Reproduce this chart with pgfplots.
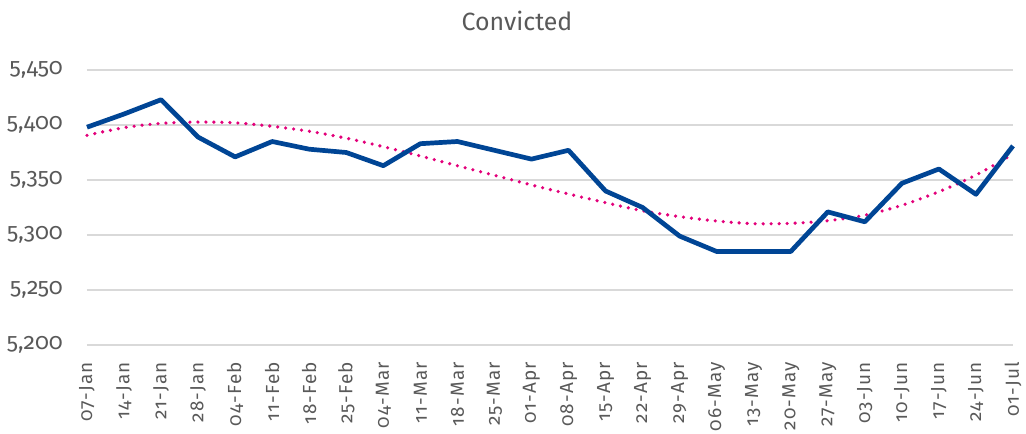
\documentclass[border=0pt]{standalone}
\usepackage{pgfplots}
\pgfplotsset{compat=1.18}
\usepackage{fontspec}
\setmainfont[Numbers=OldStyle]{Fira Sans}
\definecolor{lineblue}{HTML}{004595}
\definecolor{trendpink}{HTML}{E2007A}
\definecolor{gridgray}{HTML}{D9D9D9}
\definecolor{textgray}{HTML}{595959}
\begin{document}
\begin{tikzpicture}
\useasboundingbox (-87bp,-89bp) rectangle (939bp,345bp);
\begin{axis}[
  at={(0,0)}, anchor=south west,
  scale only axis, width=926bp, height=275bp,
  xmin=0, xmax=25, ymin=5200, ymax=5450,
  axis line style={draw=none},
  major tick length=0,
  ymajorgrids, grid style={gridgray, line width=1.3bp},
  ytick={5200,5250,5300,5350,5400,5450},
  yticklabels={{5,200},{5,250},{5,300},{5,350},{5,400},{5,450}},
  xtick={0,...,25},
  xticklabels={07-Jan,14-Jan,21-Jan,28-Jan,04-Feb,11-Feb,18-Feb,25-Feb,04-Mar,11-Mar,18-Mar,25-Mar,01-Apr,08-Apr,15-Apr,22-Apr,29-Apr,06-May,13-May,20-May,27-May,03-Jun,10-Jun,17-Jun,24-Jun,01-Jul},
  yticklabel style={font=\fontsize{23}{23}\selectfont, text=textgray, anchor=east, inner sep=0pt, xshift=-24bp},
  xticklabel style={font=\fontsize{19}{19}\selectfont\addfontfeature{LetterSpace=6}, text=textgray, rotate=90, anchor=east, inner sep=0pt, xshift=-17bp},
  title={Convicted}, title style={font=\fontsize{25}{25}\selectfont, text=textgray, anchor=base, at={(0.5,1)}, yshift=34bp, xshift=-33bp},
  clip=false,
]
\addplot[trendpink, line width=3.6bp, line cap=round, dash pattern=on 0bp off 8bp, smooth] coordinates {
(0,5390.6) (1,5397.6) (2,5401.5) (3,5402.7) (4,5402) (5,5398.8) (6,5394.3) (7,5388) (8,5380.3) (9,5371.8) (10,5363) (11,5354.3) (12,5345.5) (13,5337.3) (14,5329.4) (15,5322) (16,5316.7) (17,5312.7) (18,5310.3) (19,5310.6) (20,5313) (21,5318) (22,5327) (23,5339.4) (24,5354.5) (25,5373.6)
};
\addplot[lineblue, line width=4.7bp, line join=round] coordinates {
(0,5398) (1,5410) (2,5423) (3,5389) (4,5371) (5,5385) (6,5378) (7,5375) (8,5363) (9,5383) (10,5385) (11,5377) (12,5369) (13,5377) (14,5340) (15,5325) (16,5299) (17,5285) (18,5285) (19,5285) (20,5321) (21,5312) (22,5347) (23,5360) (24,5337) (25,5381)
};
\end{axis}
\end{tikzpicture}
\end{document}
